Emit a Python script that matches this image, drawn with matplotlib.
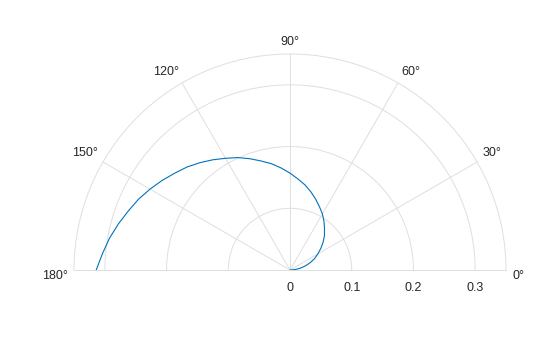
import numpy as np
import matplotlib
matplotlib.use("Agg")
import matplotlib.pyplot as plt
from matplotlib.transforms import offset_copy

# values (angle in degrees, radius)
theta_deg = [0, 5, 10, 15, 20, 25, 30, 35, 40, 45, 50, 55, 60, 65, 70, 75, 80, 85, 90,
             95, 100, 105, 110, 115, 120, 125, 130, 135, 140, 145, 150, 155, 160,
             165, 170, 175, 180]
radius = [0.000, 0.009, 0.017, 0.026, 0.035, 0.044, 0.052, 0.061, 0.070, 0.079,
          0.087, 0.096, 0.105, 0.113, 0.122, 0.131, 0.140, 0.148, 0.157,
          0.166, 0.175, 0.183, 0.192, 0.201, 0.209, 0.218, 0.227, 0.236, 0.244,
          0.253, 0.262, 0.271, 0.279, 0.288, 0.297, 0.305, 0.314]

r_ticks = [0, 0.1, 0.2, 0.3]
r_tick_labels = ["0", "0.1", "0.2", "0.3"]
r_max = 0.35
theta_ticks = [0, 30, 60, 90, 120, 150, 180]

plt.rcParams["font.family"] = ["Liberation Sans", "DejaVu Sans"]
grid_col = "#dfdfdf"
text_col = "#262626"
fs = 9

fig = plt.figure(figsize=(5.6, 3.37), dpi=100)
# square box so the half disk (centre 290,270 px, radius 216 px) fills its width
ax = fig.add_axes([74 / 560, -41 / 337, 432 / 560, 432 / 337], projection="polar")
ax.set_thetamin(0)
ax.set_thetamax(180)

ax.plot(np.deg2rad(theta_deg), radius, color=(0, 0.447, 0.741), lw=0.8)

ax.set_rlim(0, r_max)
ax.set_rticks(r_ticks)
ax.set_yticklabels([])
ax.set_thetagrids(theta_ticks, [""] * len(theta_ticks))
ax.grid(True, color=grid_col, lw=0.7)
for sp in ax.spines.values():
    sp.set_color(grid_col)
    sp.set_linewidth(0.7)

# angle labels, edge-anchored just outside the outer circle (matlab style)
gap = 4.5  # points
for t in theta_ticks:
    c, s = np.cos(np.deg2rad(t)), np.sin(np.deg2rad(t))
    ha = "left" if c > 0.01 else ("right" if c < -0.01 else "center")
    va = "bottom" if s > 0.01 else "center_baseline"
    tr = offset_copy(ax.transData, fig=fig, x=gap * c, y=gap * s - (3 if s < 0.01 else 0),
                     units="points")
    ax.text(np.deg2rad(t), r_max, f"{t}\u00b0", transform=tr, ha=ha, va=va,
            fontsize=fs, color=text_col, clip_on=False)

# radial tick labels under the 0 degree line
trans = offset_copy(ax.transData, fig=fig, x=0, y=-12, units="points")
for r, lab in zip(r_ticks, r_tick_labels):
    ax.text(0, r, lab, transform=trans, ha="center", va="center_baseline",
            fontsize=fs, color=text_col, clip_on=False)

fig.savefig("out.png", dpi=100)
